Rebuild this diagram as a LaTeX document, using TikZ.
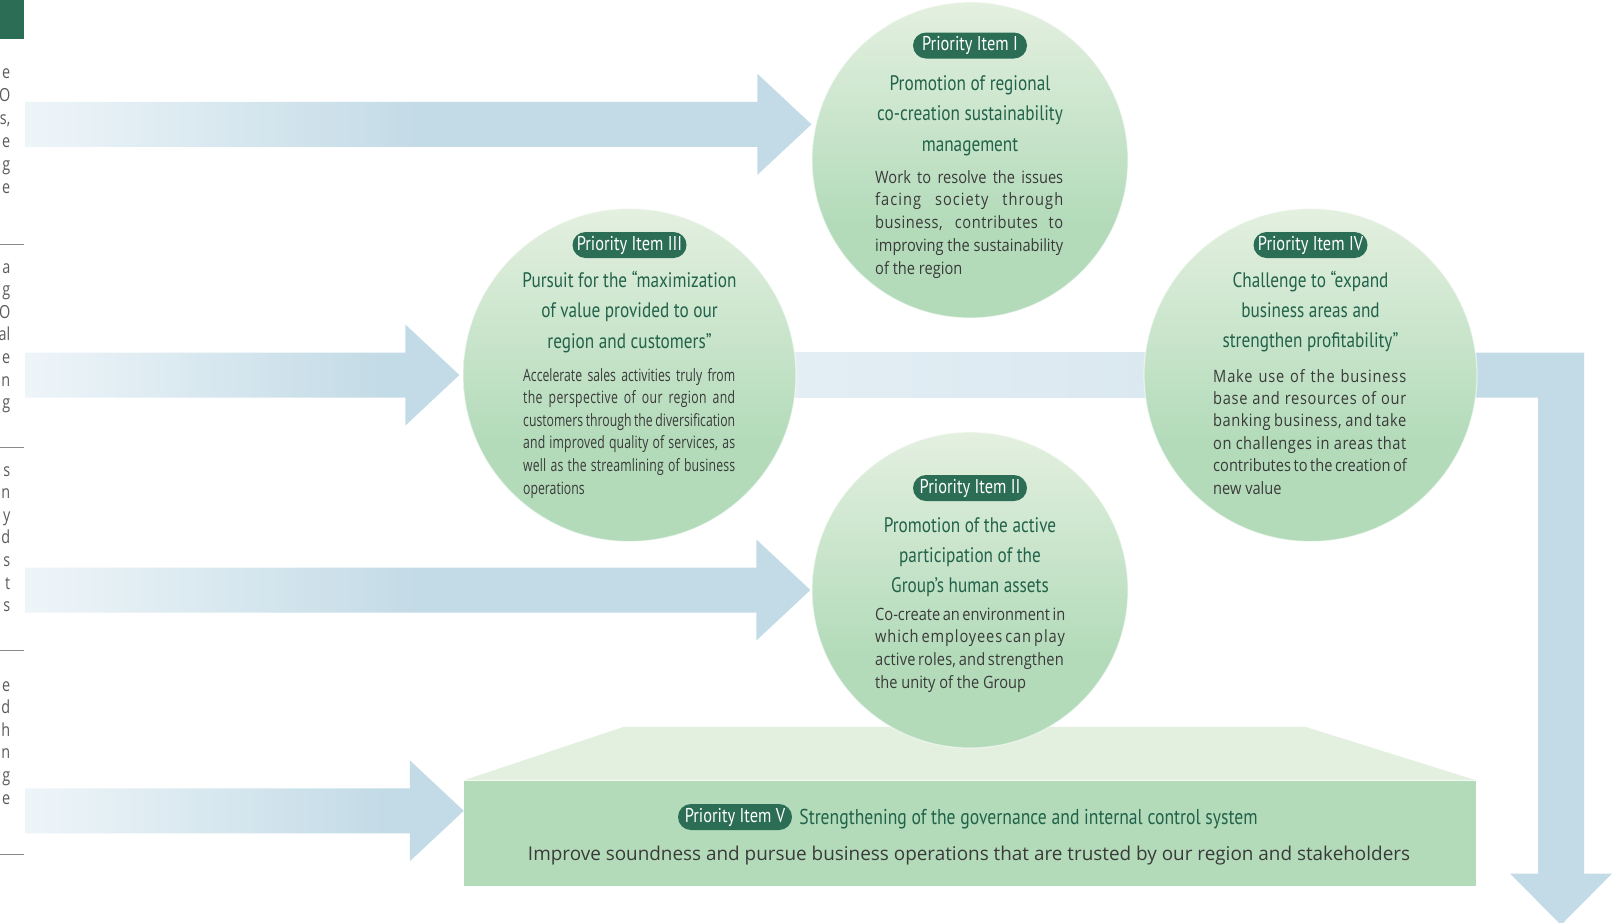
\documentclass[tikz,border=0pt]{standalone}
\usepackage{fontspec}
\usepackage{graphicx}
\usetikzlibrary{calc}
\setmainfont{Open Sans}
\newfontfamily\narrowface[FakeStretch=0.82]{PT Sans}
\newfontfamily\bodyface[FakeStretch=0.86]{Open Sans}
\newfontfamily\tightface[FakeStretch=0.72]{Open Sans}
\newfontfamily\edgeface[FakeStretch=0.8]{Open Sans}

\definecolor{deepgreen}{HTML}{2B6E55}
\definecolor{titlegreen}{HTML}{22624A}
\definecolor{bodygrey}{HTML}{3A3A3A}
\definecolor{fraggrey}{HTML}{5A5A5A}
\definecolor{circtop}{HTML}{E4F0E0}
\definecolor{circbot}{HTML}{B3DBBA}
\definecolor{platfront}{HTML}{B3DBB9}
\definecolor{plattop}{HTML}{E3EFDF}
\definecolor{arrowblue}{HTML}{C3DBE6}
\definecolor{arrowpale}{HTML}{EEF5F9}
\definecolor{bandpale}{HTML}{E8F1F6}
\definecolor{bandmid}{HTML}{DAE8F0}
\definecolor{rulegrey}{HTML}{8A8A8A}

\pgfdeclareverticalshading{orbshade}{100bp}{color(0bp)=(circbot); color(25bp)=(circbot); color(40bp)=(circbot); color(75bp)=(circtop); color(100bp)=(circtop)}
% arrow fades: the shaft brightens towards its tail
\pgfdeclarehorizontalshading{longfade}{100bp}{color(0bp)=(arrowpale); color(25bp)=(arrowpale); color(50bp)=(arrowblue); color(100bp)=(arrowblue)}
\pgfdeclarehorizontalshading{shortfade}{100bp}{color(0bp)=(arrowpale); color(25bp)=(arrowpale); color(66bp)=(arrowblue); color(100bp)=(arrowblue)}

\pgfdeclarelayer{background}
\pgfsetlayers{background,main}

\newlength\jw
\newcommand\jline[1]{\makebox[\jw][s]{#1}}
\newcommand\tline[2]{\makebox[\jw][s]{\addfontfeature{LetterSpace=#1}#2}}

% block arrow: #1 shading name, #2 tip coordinate
\newcommand\inarrow[2]{%
  \coordinate (st) at (#2 -| edge);
  \shade[shading=#1] ($(st)+(0,-22.5)$) -- ($(#2)+(-54,-22.5)$) -- ($(#2)+(-54,-50.5)$)
    -- (#2) -- ($(#2)+(-54,50.5)$) -- ($(#2)+(-54,22.5)$) -- ($(st)+(0,22.5)$) -- cycle;}

\begin{document}
\begin{tikzpicture}[x=1pt,y=-1pt,
  orb/.style={circle, inner sep=0pt, shade, shading=orbshade, draw=white, draw opacity=0.55, line width=1.2pt},
  tag/.style={rectangle, rounded corners=13pt, fill=deepgreen, text=white, minimum width=114pt,
    minimum height=26pt, inner sep=0pt, font=\narrowface\fontsize{20}{20}\selectfont},
  headline/.style={inner sep=0pt, anchor=base, text=titlegreen, font=\narrowface\fontsize{21}{30.5}\selectfont},
  blurb/.style={inner sep=0pt, anchor=base west, text=bodygrey},
  edgetext/.style={inner sep=0pt, anchor=base east, text=fraggrey}]
\useasboundingbox (0,0) rectangle (1621,922);
\clip (0,0) rectangle (1621,922);

% left margin: tab block, rules and the ends of the neighbouring column
\fill[deepgreen] (0,0) rectangle (24,39);
\foreach \yy in {244,447,650,854} \draw[rulegrey, line width=1pt] (0,\yy) -- (24,\yy);
\node[edgetext, font=\edgeface\fontsize{18}{23}\selectfont] (f1) at (10.5,78)
  {\begin{tabular}[t]{@{}r@{}}e\\O\\s,\\e\\g\\e\end{tabular}};
\node[edgetext, font=\edgeface\fontsize{18}{22.6}\selectfont] (f2) at (10.5,273)
  {\begin{tabular}[t]{@{}r@{}}a\\g\\O\\al\\e\\n\\g\end{tabular}};
\node[edgetext, font=\edgeface\fontsize{18}{22.6}\selectfont] (f3) at (10.5,476)
  {\begin{tabular}[t]{@{}r@{}}s\\n\\y\\d\\s\\t\\s\end{tabular}};
\node[edgetext, font=\edgeface\fontsize{18}{22.6}\selectfont] (f4) at (10.5,691)
  {\begin{tabular}[t]{@{}r@{}}e\\d\\h\\n\\g\\e\end{tabular}};

% the four priority circles
\node[orb, minimum size=316pt] (c1) at (970,160) {};
\node[orb, minimum size=333pt] (c3) at (629.5,375) {};
\node[orb, minimum size=333pt] (c4) at (1310.5,375) {};
\node[orb, minimum size=316pt] (c2) at (970,590) {};

% platform for priority item V
\node[fill=platfront, minimum width=1012pt, minimum height=105.5pt, inner sep=0pt] (base) at (970,833.25) {};

% arrows, band and platform top behind everything
\coordinate (edge) at (25,0);
\coordinate (tip1) at ($(c1.167.5)+(-4,0)$);
\coordinate (tip2) at ($(c3.west)+(-3,0)$);
\coordinate (tip3) at ($(c2.west)+(-1,0)$);
\coordinate (tip4) at ($(base.north west)+(0,30.5)$);
\coordinate (dtip) at (1561,925);
\coordinate (bend) at (c4.center -| dtip);
\begin{pgfonlayer}{background}
  \inarrow{longfade}{tip1}
  \inarrow{shortfade}{tip2}
  \inarrow{longfade}{tip3}
  \inarrow{shortfade}{tip4}
  \fill[left color=bandpale, right color=bandmid] ($(c3.center)+(0,-22.5)$) rectangle ($(c4.west)+(12,22.5)$);
  \fill[arrowblue] ($(c4.west)+(10,-22.5)$) -- ($(bend)+(23,-22.5)$) -- ($(dtip)+(23,-51.5)$)
    -- ($(dtip)+(51,-51.5)$) -- (dtip) -- ($(dtip)+(-51,-51.5)$) -- ($(dtip)+(-23,-51.5)$)
    -- ($(bend)+(-23,22.5)$) -- ($(c4.west)+(10,22.5)$) -- cycle;
  \fill[plattop] (base.north west) -- ($(base.north west)+(160,-53.5)$)
    -- ($(base.north east)+(-171,-53.5)$) -- (base.north east) -- cycle;
\end{pgfonlayer}

% Priority Item I
\node[tag] (p1) at (970,45.5) {Priority Item I};
\node[headline] (t1) at (970,90)
  {\begin{tabular}[t]{@{}c@{}}Promotion of regional\\co-creation sustainability\\management\end{tabular}};
\node[blurb, font=\bodyface\fontsize{17}{22.75}\selectfont] (b1) at (875,183)
  {\setlength\jw{188pt}\begin{tabular}[t]{@{}l@{}}\jline{Work to resolve the issues}\\
   \tline{6}{facing society through}\\ \tline{3}{business, contributes to}\\
   \jline{improving the sustainability}\\ of the region\end{tabular}};

% Priority Item III
\node[tag] (p3) at (629.5,245) {Priority Item III};
\node[headline] (t3) at (629.5,287)
  {\begin{tabular}[t]{@{}c@{}}Pursuit for the “maximization\\of value provided to our\\region and customers”\end{tabular}};
\node[blurb, font=\tightface\fontsize{17}{22.6}\selectfont] (b3) at (523,381)
  {\setlength\jw{212pt}\begin{tabular}[t]{@{}l@{}}\jline{Accelerate sales activities truly from}\\
   \tline{2}{the perspective of our region and}\\ \jline{customers through the diversification}\\
   \tline{1}{and improved quality of services, as}\\ \tline{1}{well as the streamlining of business}\\
   operations\end{tabular}};

% Priority Item IV
\node[tag] (p4) at (1310.5,245) {Priority Item IV};
\node[headline, font=\narrowface\fontsize{21}{30}\selectfont] (t4) at (1310.5,287.5)
  {\begin{tabular}[t]{@{}c@{}}Challenge to “expand\\business areas and\\strengthen profitability”\end{tabular}};
\node[blurb, font=\bodyface\fontsize{17}{22.4}\selectfont] (b4) at (1213,382)
  {\setlength\jw{193pt}\begin{tabular}[t]{@{}l@{}}\tline{5}{Make use of the business}\\
   \tline{4}{base and resources of our}\\ \tline{3}{banking business, and take}\\
   \tline{3}{on challenges in areas that}\\ \jline{contributes to the creation of}\\
   new value\end{tabular}};

% Priority Item II
\node[tag] (p2) at (970,488) {Priority Item II};
\node[headline, font=\narrowface\fontsize{21}{30}\selectfont] (t2) at (970,532)
  {\begin{tabular}[t]{@{}c@{}}Promotion of the active\\participation of the\\Group’s human assets\end{tabular}};
\node[blurb, font=\bodyface\fontsize{17}{22.7}\selectfont] (b2) at (875,620)
  {\setlength\jw{188pt}\begin{tabular}[t]{@{}l@{}}\jline{Co-create an environment in}\\
   \tline{5}{which employees can play}\\ \tline{1}{active roles, and strengthen}\\
   the unity of the Group\end{tabular}};

% Priority Item V
\node[tag] (p5) at (735,817) {Priority Item V};
\node[inner sep=0pt, anchor=base west, text=titlegreen, font=\narrowface\fontsize{21.5}{21.5}\selectfont] (h5)
  at ($(p5.east)+(7,7)$) {Strengthening of the governance and internal control system};
\node[inner sep=0pt, text=bodygrey, font=\fontsize{19}{19}\selectfont] (l5) at (969,856)
  {\resizebox{882pt}{\height}{Improve soundness and pursue business operations that are trusted by our region and stakeholders}};
\end{tikzpicture}
\end{document}
